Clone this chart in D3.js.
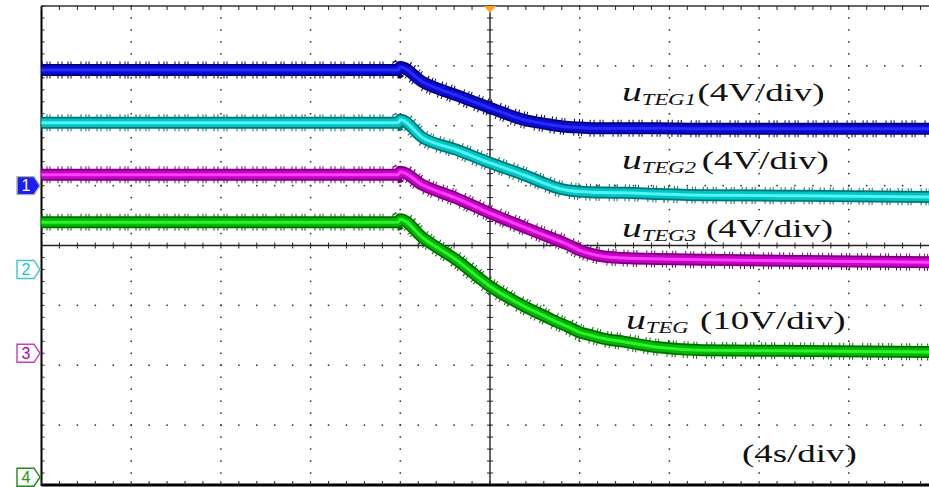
<!DOCTYPE html>
<html>
<head>
<meta charset="utf-8">
<script src="https://cdn.jsdelivr.net/npm/d3@7/dist/d3.min.js"></script>
<style>
  html, body { margin: 0; padding: 0; background: #fff; }
  svg { display: block; }
</style>
</head>
<body>
<svg id="scope" width="929" height="487"></svg>
<script>
// Acquisition time axis, seconds (4 s/div, trigger at t = 0)
const timeS = [-20, -4.1, -4.0, -3.0, -1.5, 0, 1.5, 2.5, 3.0, 3.5, 4.0, 4.5, 5.0, 6.0, 7.5, 9.5, 14, 20];

// Trace positions in screen divisions (0 = centre line, +4 = top)
const uTEG1 = [2.93, 2.93, 2.98, 2.73, 2.51, 2.30, 2.10, 2.03, 2.00, 1.98, 1.97, 1.96, 1.96, 1.96, 1.96, 1.95, 1.95, 1.95];
const uTEG2 = [2.05, 2.05, 2.10, 1.80, 1.60, 1.38, 1.18, 1.03, 0.96, 0.92, 0.90, 0.89, 0.885, 0.88, 0.86, 0.84, 0.83, 0.81];
const uTEG3 = [1.18, 1.18, 1.23, 1.01, 0.79, 0.54, 0.31, 0.16, 0.09, 0.01, -0.08, -0.14, -0.18, -0.21, -0.225, -0.24, -0.26, -0.28];
const uTEG  = [0.39, 0.39, 0.44, 0.13, -0.24, -0.68, -1.01, -1.19, -1.28, -1.36, -1.45, -1.50, -1.55, -1.61, -1.70, -1.75, -1.76, -1.78];

// Channel ground markers (divisions) and their numbers
const channelIds = ["1", "2", "3", "4"];
const channelGround = [1.0, -0.4, -1.8, -3.87];

// Trace annotations
const labelMain = ["u", "u", "u", "u"];
const labelSub = ["TEG1", "TEG2", "TEG3", "TEG"];
const labelScale = ["(4V/div)", "(4V/div)", "(4V/div)", "(10V/div)"];
const timebaseLabel = "(4s/div)";

const svg = d3.select("#scope");

// Screen: 10 horizontal divisions x 8 vertical divisions
const x = d3.scaleLinear().domain([-20, 20]).range([41.5, 938.5]);
const y = d3.scaleLinear().domain([-4, 4]).range([485, 6]);

const minorT = d3.range(-25, 26).map(i => i * 0.8);   // 1/5 div in seconds
const minorY = d3.range(-20, 21).map(i => i / 5);
const majorT = d3.range(-4, 5).filter(i => i !== 0).map(i => i * 4);
const majorY = d3.range(-3, 4).filter(i => i !== 0);

const grid = svg.append("g").attr("fill", "#2a2a2a");

// Dotted graticule: dots at every minor position along each major line
majorT.forEach(t => {
  grid.selectAll(null).data(minorY).join("rect")
    .attr("x", x(t) - 0.75).attr("y", d => y(d) - 0.75)
    .attr("width", 1.5).attr("height", 1.5);
});
majorY.forEach(v => {
  grid.selectAll(null).data(minorT).join("rect")
    .attr("x", d => x(d) - 0.75).attr("y", y(v) - 0.75)
    .attr("width", 1.5).attr("height", 1.5);
});

const frame = svg.append("g").attr("stroke", "#222");

// Centre axes with minor ticks
frame.append("line").attr("x1", x(-20)).attr("x2", x(20)).attr("y1", y(0)).attr("y2", y(0)).attr("stroke-width", 1.4);
frame.append("line").attr("x1", x(0)).attr("x2", x(0)).attr("y1", y(4)).attr("y2", y(-4)).attr("stroke-width", 1.4);
frame.selectAll(null).data(minorT).join("line")
  .attr("x1", d => x(d)).attr("x2", d => x(d))
  .attr("y1", y(0) - 3).attr("y2", y(0) + 3).attr("stroke-width", 1);
frame.selectAll(null).data(minorY).join("line")
  .attr("x1", x(0) - 3).attr("x2", x(0) + 3)
  .attr("y1", d => y(d)).attr("y2", d => y(d)).attr("stroke-width", 1);

// Border with inward ticks
frame.append("line").attr("x1", x(-20)).attr("x2", x(20)).attr("y1", y(4)).attr("y2", y(4)).attr("stroke-width", 1.3).attr("stroke", "#333");
frame.append("line").attr("x1", x(-20)).attr("x2", x(-20)).attr("y1", y(4)).attr("y2", y(-4) + 1).attr("stroke-width", 2).attr("stroke", "#000");
frame.append("line").attr("x1", x(-20)).attr("x2", x(20)).attr("y1", y(-4)).attr("y2", y(-4)).attr("stroke-width", 3).attr("stroke", "#000");
frame.selectAll(null).data(minorT).join("line")
  .attr("x1", d => x(d)).attr("x2", d => x(d))
  .attr("y1", y(4)).attr("y2", y(4) + 4).attr("stroke-width", 1);
frame.selectAll(null).data(minorT).join("line")
  .attr("x1", d => x(d)).attr("x2", d => x(d))
  .attr("y1", y(-4) - 4).attr("y2", y(-4)).attr("stroke-width", 1);
frame.selectAll(null).data(minorY).join("line")
  .attr("x1", x(-20)).attr("x2", x(-20) + 3)
  .attr("y1", d => y(d)).attr("y2", d => y(d)).attr("stroke-width", 1);

// Traces: noisy edge, dark outline, body and bright core
const traces = [
  { values: uTEG1, edge: "#000078", body: "#0a0ad2", core: "#2a2aff" },
  { values: uTEG2, edge: "#007474", body: "#00c4c4", core: "#50f4f4" },
  { values: uTEG3, edge: "#780078", body: "#c800c8", core: "#ff40ff" },
  { values: uTEG,  edge: "#006c00", body: "#00b800", core: "#30f030" }
];

const line = d3.line()
  .x((d, i) => x(timeS[i]))
  .y(d => y(d))
  .curve(d3.curveMonotoneX);

const traceG = svg.append("g").attr("fill", "none");
traces.forEach(tr => {
  const g = traceG.append("g");
  g.append("path").attr("d", line(tr.values))
    .attr("stroke", tr.edge).attr("stroke-width", 17)
    .attr("stroke-dasharray", "1 4 1 2 1 7 1 3 1 5 1 2 1 9");
  g.append("path").attr("d", line(tr.values))
    .attr("stroke", tr.edge).attr("stroke-width", 12);
  g.append("path").attr("d", line(tr.values))
    .attr("stroke", tr.body).attr("stroke-width", 8.5);
  g.append("path").attr("d", line(tr.values))
    .attr("stroke", tr.core).attr("stroke-width", 3);
});

// Trigger position marker
svg.append("path")
  .attr("d", `M${x(0) - 6},${y(4)} L${x(0) + 6},${y(4)} L${x(0)},${y(4) + 7} Z`)
  .attr("fill", "#ffa21e");

// Channel ground markers
const chanStyle = [
  { fill: "#1c1cff", stroke: "#b4b48c", text: "#ffffff" },
  { fill: "#ffffff", stroke: "#3cc8c8", text: "#10c8d0" },
  { fill: "#ffffff", stroke: "#c040c0", text: "#b400b4" },
  { fill: "#ffffff", stroke: "#208a20", text: "#10a010" }
];
const markers = svg.append("g");
channelGround.forEach((gv, i) => {
  const c = y(gv);
  markers.append("path")
    .attr("d", `M17,${c - 9} L34,${c - 9} L40,${c} L34,${c + 9} L17,${c + 9} Z`)
    .attr("fill", chanStyle[i].fill).attr("stroke", chanStyle[i].stroke).attr("stroke-width", 1.4);
  markers.append("text")
    .attr("x", 26).attr("y", c + 5.5)
    .attr("text-anchor", "middle")
    .attr("font-family", "Liberation Sans, Arial, sans-serif")
    .attr("font-size", 16)
    .attr("fill", chanStyle[i].text)
    .text(channelIds[i]);
});

// Annotations (wide serif lettering)
const labelPos = [
  { x: 622, y: 101, gap: 1 },
  { x: 622, y: 169, gap: 4 },
  { x: 622, y: 237, gap: 7 },
  { x: 626, y: 329, gap: 8 }
];
const SX = 1.42;
const labels = svg.append("g")
  .attr("font-family", "Liberation Serif, 'Times New Roman', serif")
  .attr("fill", "#111");
labelPos.forEach((p, i) => {
  const t = labels.append("text")
    .attr("transform", `translate(${p.x},${p.y}) scale(${SX},1)`);
  t.append("tspan").attr("font-style", "italic").attr("font-size", 28).text(labelMain[i]);
  t.append("tspan").attr("font-style", "italic").attr("font-size", 16).attr("dy", 4).text(labelSub[i]);
  t.append("tspan").attr("font-size", 26).attr("dy", -4).attr("dx", p.gap).text(labelScale[i]);
});
labels.append("text")
  .attr("transform", `translate(742,462) scale(${SX},1)`)
  .attr("font-size", 26)
  .text(timebaseLabel);
</script>
</body>
</html>
